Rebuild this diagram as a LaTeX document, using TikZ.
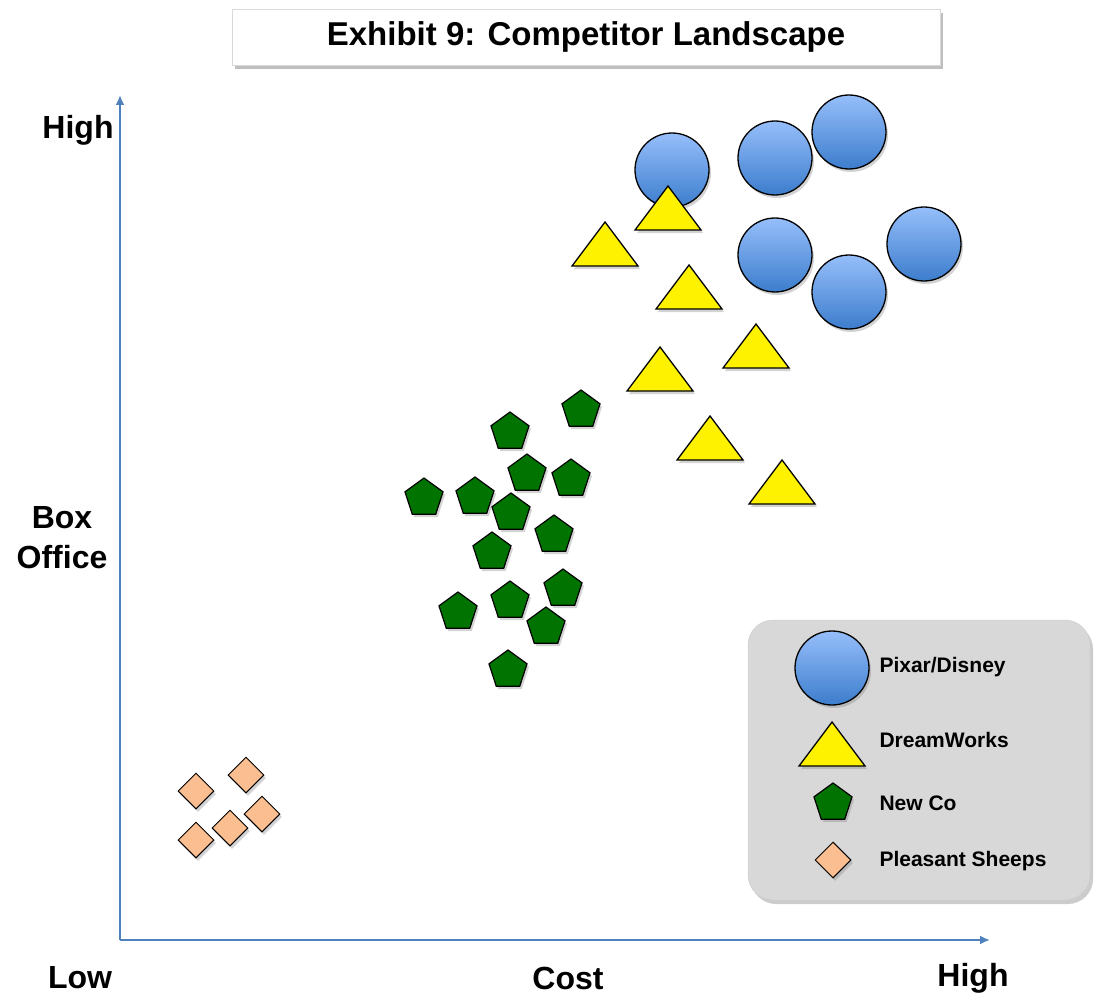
\documentclass[tikz,border=0pt]{standalone}
\usepackage{fontspec}
\setmainfont{Liberation Sans}
\usetikzlibrary{shapes.geometric,shadows,arrows.meta}
\definecolor{axisblue}{RGB}{79,129,189}
\definecolor{ctop}{RGB}{150,190,250}
\definecolor{cbot}{RGB}{60,125,205}
\definecolor{pent}{RGB}{0,115,0}
\definecolor{dia}{RGB}{250,190,145}
\definecolor{legbg}{RGB}{216,216,216}
\tikzset{
 shd/.style={drop shadow={shadow xshift=2pt,shadow yshift=-3pt,opacity=0.35}},
 disney/.style={circle,draw=black,line width=1.3pt,top color=ctop,bottom color=cbot,minimum size=74pt,inner sep=0pt,shd},
 dw/.style={fill=yellow,draw=black,line width=1.3pt,shd},
 newco/.style={regular polygon,regular polygon sides=5,draw=black,line width=1.2pt,fill=pent,minimum size=40pt,inner sep=0pt,shd},
 sheep/.style={diamond,draw=black,line width=1pt,fill=dia,minimum size=36pt,inner sep=0pt,shd},
 ax/.style={axisblue,line width=2.5pt,-{Latex[length=10pt,width=9pt]}},
 lab/.style={font=\fontsize{32}{36}\selectfont\bfseries,align=center},
 leg/.style={font=\fontsize{21}{24}\selectfont\bfseries,anchor=west},
}
\newcommand{\tria}[3]{\draw[dw] (#1-33,#2+44) -- (#1,#2) -- (#1+33,#2+44) -- cycle; \coordinate (#3) at (#1,#2+30);}
\begin{document}
\begin{tikzpicture}[x=1pt,y=-1pt]
\useasboundingbox (0,0) rectangle (1096,1006);
\node[draw=black!15,fill=white,minimum width=708pt,minimum height=56pt,font=\fontsize{33}{38}\selectfont\bfseries,drop shadow={shadow xshift=3pt,shadow yshift=-4pt,opacity=0.5}] (title) at (586,37) {Exhibit 9: Competitor Landscape};
\coordinate (o) at (120,940);
\coordinate (ytop) at (120,95);
\coordinate (xend) at (990,940);
\draw[ax] (o) -- (ytop);
\draw[ax] (o) -- (xend);
\node[lab] (hy) at (78,130) {High};
\node[lab,font=\fontsize{32}{40}\selectfont\bfseries] (bo) at (62,538) {Box\\Office};
\node[lab] (lo) at (80,978) {Low};
\node[lab] (co) at (568,978) {Cost};
\node[lab] (hx) at (973,978) {High};
% legend box
\node[draw=black!20,fill=legbg,rounded corners=25pt,minimum width=342pt,minimum height=280pt,drop shadow={shadow xshift=3pt,shadow yshift=-4pt,opacity=0.4}] (legend) at (919,760) {};
% circles
\node[disney] (c1) at (672,170) {};
\node[disney] (c2) at (775,158) {};
\node[disney] (c3) at (849,132) {};
\node[disney] (c4) at (775,255) {};
\node[disney] (c5) at (849,292) {};
\node[disney] (c6) at (924,244) {};
\node[disney] (lc) at (832,668) {};
% triangles
\tria{668}{186}{t1}
\tria{605}{222}{t2}
\tria{689}{265}{t3}
\tria{756}{324}{t4}
\tria{660}{347}{t5}
\tria{710}{416}{t6}
\tria{782}{460}{t7}
\tria{832}{722}{lt}
% pentagons
\foreach \x/\y [count=\i] in {581/410,510/432,527/474,571/479,424/498,475/497,511/513,554/535,492/552,563/589,458/612,510/601,546/627,508/670}
  \node[newco] (p\i) at (\x,\y) {};
\node[newco] (lp) at (833,803) {};
% diamonds
\foreach \x/\y [count=\i] in {196/791,246/775,262/814,230/828,196/840}
  \node[sheep] (d\i) at (\x,\y) {};
\node[sheep] (ld) at (833,860) {};
% legend texts
\node[leg] (l1) at (876,667) {Pixar/Disney};
\node[leg] (l2) at (876,740) {DreamWorks};
\node[leg] (l3) at (876,803) {New Co};
\node[leg] (l4) at (876,861) {Pleasant Sheeps};
\end{tikzpicture}
\end{document}
